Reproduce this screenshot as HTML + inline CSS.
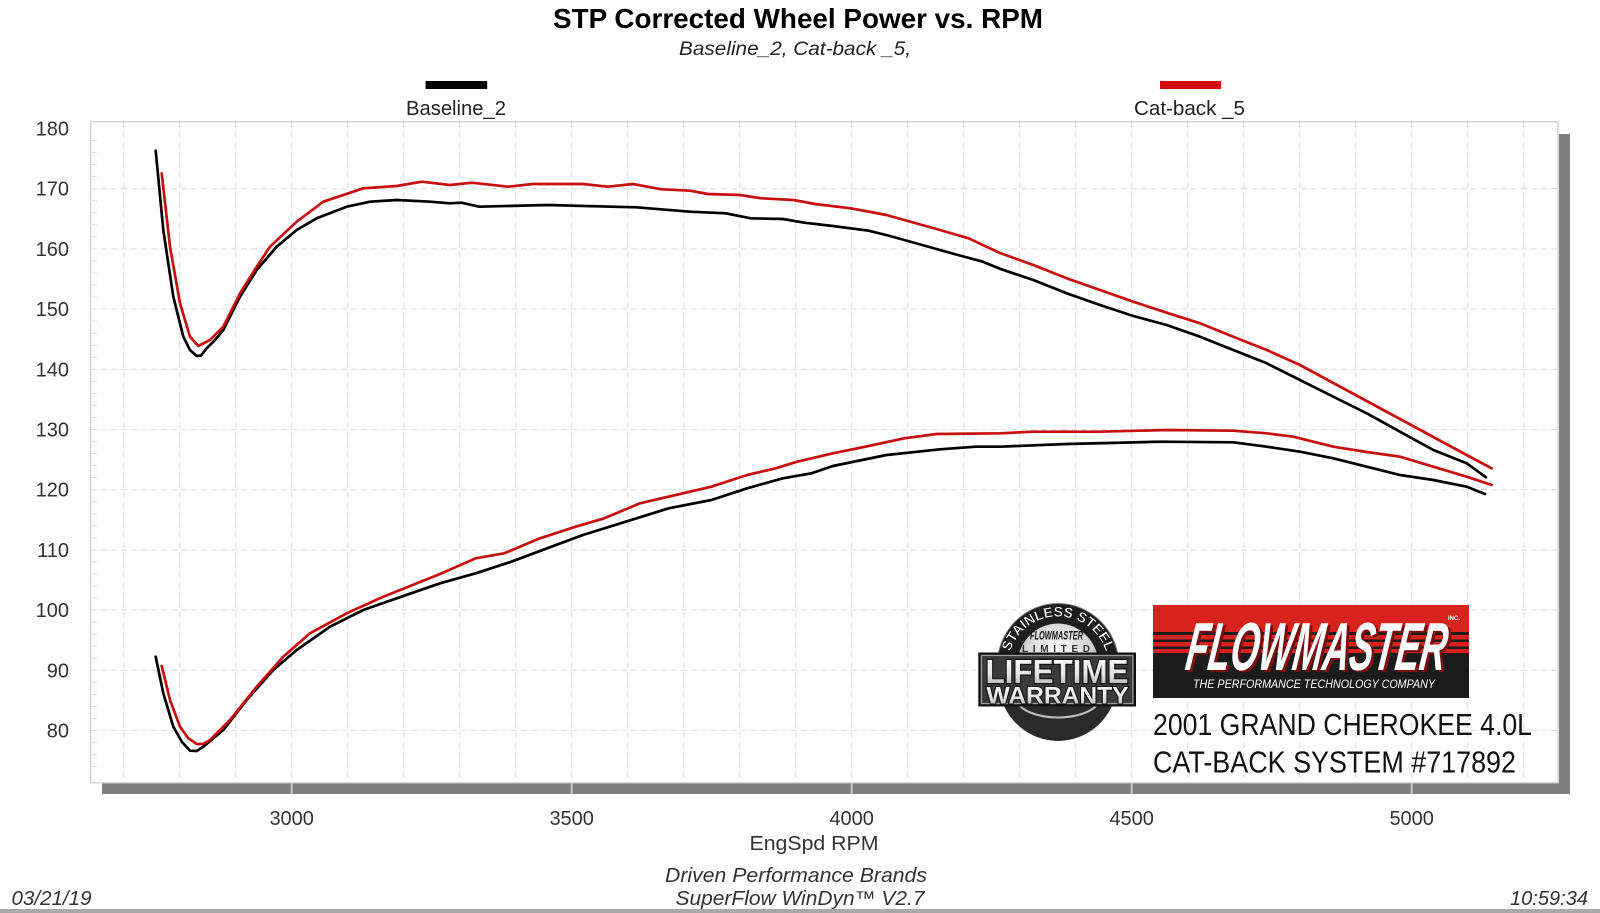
<!DOCTYPE html>
<html>
<head>
<meta charset="utf-8">
<style>
  html, body { margin:0; padding:0; background:#ffffff; }
  svg { display:block; }
  text { font-family: "Liberation Sans", Arial, sans-serif; }
</style>
</head>
<body>
<svg width="1600" height="913" viewBox="0 0 1600 913" xmlns="http://www.w3.org/2000/svg">
  <defs>
    <radialGradient id="silver" cx="50%" cy="35%" r="65%">
      <stop offset="0%" stop-color="#ffffff"/>
      <stop offset="60%" stop-color="#d4d4d4"/>
      <stop offset="100%" stop-color="#8a8a8a"/>
    </radialGradient>
    <linearGradient id="lettersilver" x1="0" y1="0" x2="0" y2="1">
      <stop offset="0%" stop-color="#ffffff"/>
      <stop offset="55%" stop-color="#e6e6e6"/>
      <stop offset="100%" stop-color="#a4a4a4"/>
    </linearGradient>
    <path id="arcTop" d="M 1011,683.6 A 50 50 0 1 1 1105,683.6"/>
  </defs>

  <rect x="0" y="0" width="1600" height="913" fill="#ffffff"/>

  <!-- Title -->
  <text x="798" y="28" font-size="28" font-weight="bold" text-anchor="middle" textLength="490" lengthAdjust="spacingAndGlyphs" fill="#000">STP Corrected Wheel Power vs. RPM</text>
  <text x="795" y="55" font-size="19" font-style="italic" text-anchor="middle" textLength="232" lengthAdjust="spacingAndGlyphs" fill="#222">Baseline_2, Cat-back _5,</text>

  <!-- Legend -->
  <rect x="425.6" y="81" width="61.6" height="8" fill="#000"/>
  <text x="456" y="115" font-size="20" text-anchor="middle" textLength="100" lengthAdjust="spacingAndGlyphs" fill="#222">Baseline_2</text>
  <rect x="1160" y="81" width="61" height="8" fill="#d20a0a"/>
  <text x="1189.5" y="115" font-size="20" text-anchor="middle" textLength="111" lengthAdjust="spacingAndGlyphs" fill="#222">Cat-back _5</text>

  <!-- Shadows -->
  <rect x="102" y="783" width="1468" height="11" fill="#7f7f7f"/>
  <rect x="1559" y="134" width="11" height="660" fill="#7f7f7f"/>
  <g stroke="#c9c9c9" stroke-width="2">
    <line x1="291.7" y1="783" x2="291.7" y2="794"/>
    <line x1="571.7" y1="783" x2="571.7" y2="794"/>
    <line x1="851.7" y1="783" x2="851.7" y2="794"/>
    <line x1="1131.7" y1="783" x2="1131.7" y2="794"/>
    <line x1="1411.7" y1="783" x2="1411.7" y2="794"/>
  </g>

  <!-- Plot area -->
  <rect x="90.7" y="121.7" width="1467.3" height="661" fill="#ffffff" stroke="#d6d6d6" stroke-width="1.5"/>

  <!-- Grid -->
  <g stroke="#dedede" stroke-width="1.1" stroke-dasharray="6 4" fill="none">
    <path d="M123.7,122V782 M179.7,122V782 M235.7,122V782 M291.7,122V782 M347.7,122V782 M403.7,122V782 M459.7,122V782 M515.7,122V782 M571.7,122V782 M627.7,122V782 M683.7,122V782 M739.7,122V782 M795.7,122V782 M851.7,122V782 M907.7,122V782 M963.7,122V782 M1019.7,122V782 M1075.7,122V782 M1131.7,122V782 M1187.7,122V782 M1243.7,122V782 M1299.7,122V782 M1355.7,122V782 M1411.7,122V782 M1467.7,122V782 M1523.7,122V782"/>
    <path d="M91,188.7H1558 M91,248.9H1558 M91,309.1H1558 M91,369.3H1558 M91,429.5H1558 M91,489.7H1558 M91,549.9H1558 M91,610.1H1558 M91,670.3H1558 M91,730.5H1558"/>
  </g>
  <!-- minor ticks on left -->
  <g stroke="#dedede" stroke-width="1.1">
    <path d="M92,140.5h5 M92,152.6h5 M92,164.6h5 M92,176.6h5 M92,200.7h5 M92,212.8h5 M92,224.8h5 M92,236.8h5 M92,260.9h5 M92,273h5 M92,285h5 M92,297h5 M92,321.1h5 M92,333.2h5 M92,345.2h5 M92,357.2h5 M92,381.3h5 M92,393.4h5 M92,405.4h5 M92,417.4h5 M92,441.5h5 M92,453.6h5 M92,465.6h5 M92,477.6h5 M92,501.7h5 M92,513.8h5 M92,525.8h5 M92,537.8h5 M92,561.9h5 M92,574h5 M92,586h5 M92,598h5 M92,622.1h5 M92,634.2h5 M92,646.2h5 M92,658.2h5 M92,682.3h5 M92,694.4h5 M92,706.4h5 M92,718.4h5 M92,742.5h5 M92,754.6h5 M92,766.6h5"/>
  </g>

  <!-- Y tick labels -->
  <g font-size="20" fill="#333" text-anchor="end">
    <text x="69" y="135.5">180</text>
    <text x="69" y="195.7">170</text>
    <text x="69" y="255.9">160</text>
    <text x="69" y="316.1">150</text>
    <text x="69" y="376.3">140</text>
    <text x="69" y="436.5">130</text>
    <text x="69" y="496.7">120</text>
    <text x="69" y="556.9">110</text>
    <text x="69" y="617.1">100</text>
    <text x="69" y="677.3">90</text>
    <text x="69" y="737.5">80</text>
  </g>

  <!-- X tick labels -->
  <g font-size="20" fill="#333" text-anchor="middle">
    <text x="291.7" y="825">3000</text>
    <text x="571.7" y="825">3500</text>
    <text x="851.7" y="825">4000</text>
    <text x="1131.7" y="825">4500</text>
    <text x="1411.7" y="825">5000</text>
  </g>
  <text x="814" y="850" font-size="20" fill="#333" text-anchor="middle" textLength="129" lengthAdjust="spacingAndGlyphs">EngSpd  RPM</text>

  <!-- Footer -->
  <text x="665" y="882" font-size="20" font-style="italic" fill="#333" textLength="262" lengthAdjust="spacingAndGlyphs">Driven Performance Brands</text>
  <text x="675.5" y="905" font-size="20" font-style="italic" fill="#333" textLength="249" lengthAdjust="spacingAndGlyphs">SuperFlow WinDyn™  V2.7</text>
  <text x="11.5" y="905" font-size="20" font-style="italic" fill="#333" textLength="80" lengthAdjust="spacingAndGlyphs">03/21/19</text>
  <text x="1510" y="905" font-size="20" font-style="italic" fill="#333" textLength="78" lengthAdjust="spacingAndGlyphs">10:59:34</text>
  <rect x="0" y="909" width="1600" height="4" fill="#a9a9a9"/>

  <!-- Curves: black -->
  <g fill="none" stroke="#000" stroke-width="2.7" stroke-linejoin="round" stroke-linecap="round">
    <polyline points="155.7,150.7 163.3,230 173.3,296.7 183.3,336.7 190,350 196.7,356 201,355.5 206.7,348.3 215,340 223.3,330 240,296.7 256.7,270 276.7,246.7 296.7,230 316.7,218.3 346.7,206.7 370,201.7 396.7,200 430,201.7 450,203.3 461.4,202.7 479.3,206.7 547.1,205 636.4,207.3 690,211.7 725.7,213.3 750.7,218.3 782.9,219 804.3,222.7 832.9,226 868.6,230.7 890,236 918.6,244 957.9,255 982.9,261.7 1000,268.8 1033.3,280 1066.7,293.3 1100,305 1133.3,316 1166.7,325 1200,336.7 1233.3,350 1266.7,363.3 1300,380 1333.3,396.7 1366.7,413.3 1400,431.7 1433.3,450 1466.7,463.3 1486,477.3"/>
    <polyline points="155.7,656.7 163.3,693.3 173.3,726.7 182,742 190,750.7 196.7,751 203.3,746.7 223.3,730 246.7,700 273.3,670 296.7,650 330,626.7 363.3,610 396.7,598.3 440,583.3 475.7,573.3 511.4,561.7 547.1,548.3 582.9,535 625.7,521.7 668.6,508.3 711.4,500 747.1,488.3 782.9,478.3 811.4,473.3 832.9,466 886.4,455 940,449.3 975.7,446.7 1000,446.7 1066.7,444 1160,441.7 1233.3,442.3 1266.7,446.7 1300,451.7 1333.3,458.3 1366.7,466.7 1400,475 1433.3,480 1466.7,486.7 1485,494"/>
  </g>
  <!-- Curves: red -->
  <g fill="none" stroke="#c80f0f" stroke-width="2.7" stroke-linejoin="round" stroke-linecap="round">
    <polyline points="161.7,173.3 170,246.7 180,303.3 190,336.7 198.3,346 210,340 223.3,326.7 240,293.3 256.7,266.7 270,246.7 296.7,221.7 323.3,201.7 363.3,188.3 396.7,186 421.7,181.7 450,185 472.1,182.7 507.9,186.7 532.9,184 582.9,184 607.9,186.7 632.9,184 661.4,189.3 690,190.7 707.9,194 740,195 761.4,198.3 793.6,200 815,204 850.7,208.3 886.4,215 904.3,220 940,230 968.6,238.3 1000,253 1033.3,265 1066.7,278.3 1100,290 1133.3,301.7 1166.7,312.7 1200,323.3 1233.3,336.7 1266.7,350 1300,365 1333.3,383 1366.7,401 1400,419 1433.3,437 1466.7,455 1491.7,468.3"/>
    <polyline points="161.7,666 170,700 180,726.7 188,738 196.7,744 203,744 210,740 230,720 256.7,686.7 283.3,656.7 310,633.3 346.7,613.3 383.3,596.7 440,574 475.7,558.3 504.3,553.3 540,538.3 575.7,526.7 604.3,518.3 640,503.3 675.7,495 711.4,486.7 747.1,475 775.7,468.3 797.1,461.7 832.9,453.3 868.6,446 904.3,438.3 936.4,434 1000,433.3 1033,431.7 1100,431.7 1166.7,430 1233.3,430.7 1266.7,433.3 1293.3,436.7 1333.3,446.7 1366.7,452 1400,456.7 1433.3,466.7 1466.7,476.7 1491.7,485"/>
  </g>

  <!-- Warranty badge -->
  <g>
    <ellipse cx="1058" cy="666.5" rx="61" ry="63" fill="#1e1e1e" stroke="#777" stroke-width="1"/>
    <ellipse cx="1058" cy="666.5" rx="41" ry="43" fill="url(#silver)"/>
    <text font-size="14" font-weight="bold" fill="#ffffff" stroke="#000" stroke-width="0.4">
      <textPath href="#arcTop" startOffset="50%" text-anchor="middle">STAINLESS STEEL</textPath>
    </text>
    <text x="1056.5" y="639.5" font-size="12" font-weight="bold" font-style="italic" text-anchor="middle" textLength="53" lengthAdjust="spacingAndGlyphs" fill="#111">FLOWMASTER</text>
    <text x="1056" y="652" font-size="10" font-weight="bold" text-anchor="middle" textLength="68" lengthAdjust="spacing" fill="#333">LIMITED</text>
    <path d="M 1004,706 A 60 62 0 0 0 1112,706 Z" fill="#2a2a2a"/>
    <path d="M 1020,706 A 42 20 0 0 0 1096,706" fill="none" stroke="#bdbdbd" stroke-width="2"/>
    <rect x="979.3" y="653.5" width="155.7" height="52" fill="#3a3a3a" stroke="#111" stroke-width="2"/>
    <rect x="981.5" y="655.5" width="151.3" height="48" fill="none" stroke="#9a9a9a" stroke-width="1.2"/>
    <text x="985.5" y="683" font-size="33" font-weight="bold" textLength="143" lengthAdjust="spacingAndGlyphs" fill="url(#lettersilver)" stroke="#111" stroke-width="2.4" paint-order="stroke">LIFETIME</text>
    <text x="986.5" y="703.5" font-size="24" font-weight="bold" textLength="142" lengthAdjust="spacingAndGlyphs" fill="url(#lettersilver)" stroke="#111" stroke-width="2" paint-order="stroke">WARRANTY</text>
  </g>

  <!-- Flowmaster logo -->
  <g>
    <rect x="1153" y="605" width="316" height="93" fill="#1b1b1b"/>
    <rect x="1153" y="605" width="316" height="27" fill="#d7221d"/>
    <rect x="1153" y="635" width="316" height="4.5" fill="#d7221d"/>
    <rect x="1153" y="642" width="316" height="4.5" fill="#d7221d"/>
    <rect x="1153" y="649" width="316" height="4" fill="#d7221d"/>
    <g transform="translate(0,670) skewX(-8) translate(0,-670)">
      <text x="1187" y="672" font-size="68" font-weight="bold" font-style="italic" textLength="260" lengthAdjust="spacingAndGlyphs" fill="#7a0d0d">FLOWMASTER</text>
      <text x="1184" y="670" font-size="68" font-weight="bold" font-style="italic" textLength="260" lengthAdjust="spacingAndGlyphs" fill="#ffffff">FLOWMASTER</text>
    </g>
    <text x="1448" y="620" font-size="6" font-weight="bold" fill="#ffffff">INC.</text>
    <text x="1188" y="659" font-size="5" fill="#ffffff">®</text>
    <text x="1193" y="688" font-size="12" font-style="italic" textLength="242" lengthAdjust="spacingAndGlyphs" fill="#ffffff">THE PERFORMANCE TECHNOLOGY COMPANY</text>
  </g>
  <text x="1153" y="735" font-size="31" textLength="379" lengthAdjust="spacingAndGlyphs" fill="#111">2001 GRAND CHEROKEE 4.0L</text>
  <text x="1153" y="772.5" font-size="31" textLength="363" lengthAdjust="spacingAndGlyphs" fill="#111">CAT-BACK SYSTEM #717892</text>
</svg>
</body>
</html>
